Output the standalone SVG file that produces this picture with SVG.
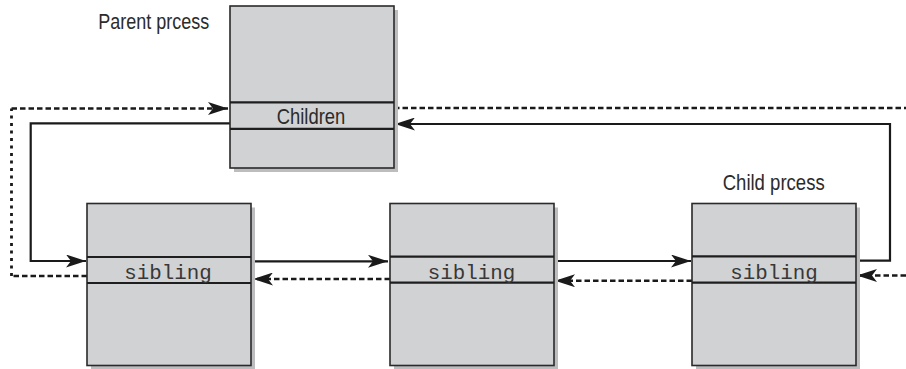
<svg xmlns="http://www.w3.org/2000/svg" width="906" height="369" viewBox="0 0 906 369">
<style>
.shadow{fill:#bdbdbf}
.box{fill:#d1d2d4;stroke:#2a2a2a;stroke-width:1.6}
.band{stroke:#1e1e1e;stroke-width:2.2;fill:none}
.lbl{font-family:"Liberation Sans",Arial,sans-serif;font-size:21.5px;fill:#2b2b2b}
.mono{font-family:"Liberation Mono","Courier New",monospace;font-size:20.5px;fill:#383838;text-anchor:middle}
.solid{fill:none;stroke:#1a1a1a;stroke-width:2.2}
.dash{fill:none;stroke:#1a1a1a;stroke-width:2.4;stroke-dasharray:5.5 3}
.dot{fill:none;stroke:#1a1a1a;stroke-width:2.8;stroke-dasharray:3 4.5}
</style>
<defs>
<marker id="ah" viewBox="0 0 20 13" markerWidth="20" markerHeight="13" refX="20" refY="6.5" orient="auto" markerUnits="userSpaceOnUse">
<path d="M0,0 L20,6.5 L0,13 L5,6.5 Z" fill="#1a1a1a"/>
</marker>
</defs>

<g id="connectors">
<path class="dash" d="M87,276 L11.5,276"/>
<path class="dot" d="M11.5,276 L11.5,108.5"/>
<path class="dash" d="M11.5,108.5 L228,108.5" marker-end="url(#ah)"/>
<path class="solid" d="M230,123.3 L30.7,123.3 L30.7,261 L86,261" marker-end="url(#ah)"/>
<path class="solid" d="M251,261.3 L388,261.3" marker-end="url(#ah)"/>
<path class="dash" d="M390,279 L253,279" marker-end="url(#ah)"/>
<path class="solid" d="M554,261 L691,261" marker-end="url(#ah)"/>
<path class="dash" d="M692,280.7 L555,280.7" marker-end="url(#ah)"/>
<path class="solid" d="M856,260.7 L890,260.7 L890,124 L395,124" marker-end="url(#ah)"/>
<path class="dash" d="M394,108 L906,108"/>
<path class="dash" d="M906,275.5 L857,275.5" marker-end="url(#ah)"/>
</g>

<g id="parent">
<rect class="shadow" x="234" y="10" width="164" height="162"/>
<rect class="box" x="230" y="6" width="164" height="162"/>
<line class="band" x1="230" y1="102.3" x2="394" y2="102.3"/>
<line class="band" x1="230" y1="128.8" x2="394" y2="128.8"/>
<text class="lbl" x="311" y="124" text-anchor="middle" textLength="68.5" lengthAdjust="spacingAndGlyphs">Children</text>
<text class="lbl" x="98.3" y="28.5" textLength="111" lengthAdjust="spacingAndGlyphs">Parent prcess</text>
</g>

<g id="child1">
<rect class="shadow" x="91" y="207.5" width="164" height="162"/>
<rect class="box" x="87" y="203.5" width="164" height="162"/>
<line class="band" x1="87" y1="257" x2="251" y2="257"/>
<line class="band" x1="87" y1="283" x2="251" y2="283"/>
<text class="mono" x="168" y="279" textLength="87.5" lengthAdjust="spacingAndGlyphs">sibling</text>
</g>

<g id="child2">
<rect class="shadow" x="394" y="207.5" width="164" height="162"/>
<rect class="box" x="390" y="203.5" width="164" height="162"/>
<line class="band" x1="390" y1="256.7" x2="554" y2="256.7"/>
<line class="band" x1="390" y1="282.7" x2="554" y2="282.7"/>
<text class="mono" x="471.5" y="279" textLength="87.5" lengthAdjust="spacingAndGlyphs">sibling</text>
</g>

<g id="child3">
<rect class="shadow" x="696" y="207.5" width="164" height="162"/>
<rect class="box" x="692" y="203.5" width="164" height="162"/>
<line class="band" x1="692" y1="256.3" x2="856" y2="256.3"/>
<line class="band" x1="692" y1="282.7" x2="856" y2="282.7"/>
<text class="mono" x="774" y="279" textLength="87.5" lengthAdjust="spacingAndGlyphs">sibling</text>
<text class="lbl" x="722.7" y="190" textLength="102" lengthAdjust="spacingAndGlyphs">Child prcess</text>
</g>
</svg>
